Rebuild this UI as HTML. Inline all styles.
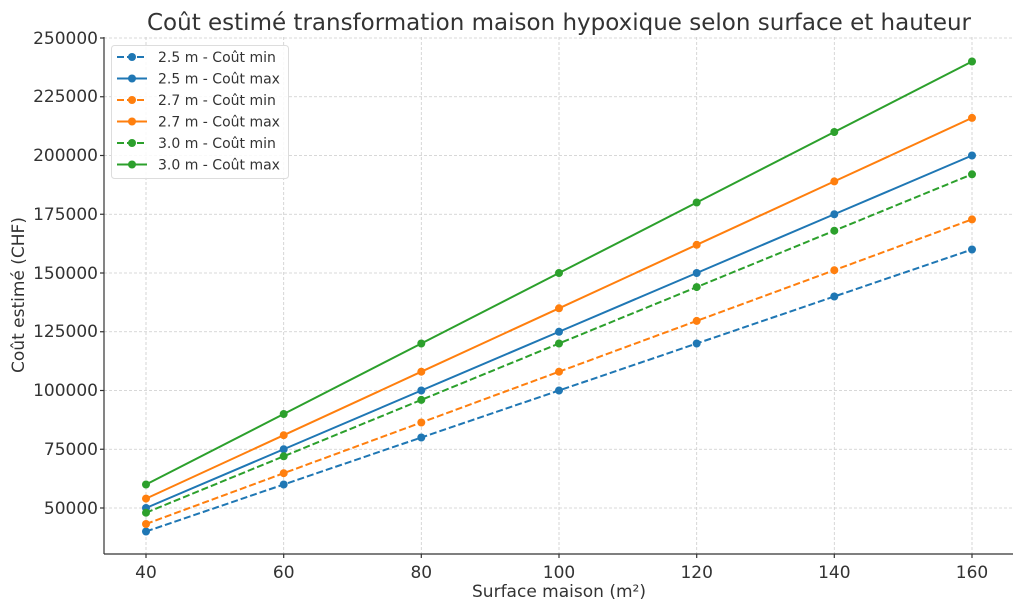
<!DOCTYPE html>
<html><head><meta charset="utf-8"><style>body{margin:0;background:#fff}svg{display:block}text{font-family:"DejaVu Sans","Liberation Sans",sans-serif;fill:#333}</style></head><body>
<svg width="1024" height="610" viewBox="0 0 1024 610">
<text x="559" y="30" font-size="23" text-anchor="middle">Coût estimé transformation maison hypoxique selon surface et hauteur</text>
<g stroke="#ccc" stroke-width="0.8" stroke-dasharray="3,2">
<line x1="146" y1="37" x2="146" y2="554"/><line x1="283.7" y1="37" x2="283.7" y2="554"/><line x1="421.3" y1="37" x2="421.3" y2="554"/><line x1="559" y1="37" x2="559" y2="554"/><line x1="696.7" y1="37" x2="696.7" y2="554"/><line x1="834.3" y1="37" x2="834.3" y2="554"/><line x1="972" y1="37" x2="972" y2="554"/>
<line x1="104" y1="508" x2="1013" y2="508"/><line x1="104" y1="449.25" x2="1013" y2="449.25"/><line x1="104" y1="390.5" x2="1013" y2="390.5"/><line x1="104" y1="331.75" x2="1013" y2="331.75"/><line x1="104" y1="273" x2="1013" y2="273"/><line x1="104" y1="214.25" x2="1013" y2="214.25"/><line x1="104" y1="155.5" x2="1013" y2="155.5"/><line x1="104" y1="96.75" x2="1013" y2="96.75"/><line x1="104" y1="38" x2="1013" y2="38"/>
</g>
<g stroke="#333" stroke-width="1.2"><line x1="104" y1="37" x2="104" y2="554"/><line x1="104" y1="554" x2="1013" y2="554"/>
<line x1="100" y1="508" x2="104" y2="508"/><line x1="100" y1="449.25" x2="104" y2="449.25"/><line x1="100" y1="390.5" x2="104" y2="390.5"/><line x1="100" y1="331.75" x2="104" y2="331.75"/><line x1="100" y1="273" x2="104" y2="273"/><line x1="100" y1="214.25" x2="104" y2="214.25"/><line x1="100" y1="155.5" x2="104" y2="155.5"/><line x1="100" y1="96.75" x2="104" y2="96.75"/><line x1="100" y1="38" x2="104" y2="38"/>
<line x1="146" y1="554" x2="146" y2="558"/><line x1="283.7" y1="554" x2="283.7" y2="558"/><line x1="421.3" y1="554" x2="421.3" y2="558"/><line x1="559" y1="554" x2="559" y2="558"/><line x1="696.7" y1="554" x2="696.7" y2="558"/><line x1="834.3" y1="554" x2="834.3" y2="558"/><line x1="972" y1="554" x2="972" y2="558"/></g>
<g font-size="17" text-anchor="end"><text x="98" y="514">50000</text><text x="98" y="455">75000</text><text x="98" y="396">100000</text><text x="98" y="337">125000</text><text x="98" y="279">150000</text><text x="98" y="220">175000</text><text x="98" y="161">200000</text><text x="98" y="102">225000</text><text x="98" y="44">250000</text></g>
<g font-size="17" text-anchor="middle"><text x="146" y="578">40</text><text x="283.7" y="578">60</text><text x="421.3" y="578">80</text><text x="559" y="578">100</text><text x="696.7" y="578">120</text><text x="834.3" y="578">140</text><text x="972" y="578">160</text>
<text x="559" y="597">Surface maison (m²)</text>
<text transform="translate(24,295) rotate(-90)">Coût estimé (CHF)</text></g>
<g fill="none" stroke-width="2">
<polyline stroke="#1f77b4" stroke-dasharray="7,3" points="146,531.5 283.7,484.5 421.3,437.5 559,390.5 696.7,343.5 834.3,296.5 972,249.5"/>
<polyline stroke="#1f77b4" points="146,508 283.7,449.25 421.3,390.5 559,331.75 696.7,273 834.3,214.25 972,155.5"/>
<polyline stroke="#ff7f0e" stroke-dasharray="7,3" points="146,524 283.7,473.2 421.3,422.5 559,371.7 696.7,320.9 834.3,270.2 972,219.4"/>
<polyline stroke="#ff7f0e" points="146,498.6 283.7,435.2 421.3,371.7 559,308.3 696.7,244.8 834.3,181.4 972,117.9"/>
<polyline stroke="#2ca02c" stroke-dasharray="7,3" points="146,512.7 283.7,456.3 421.3,399.9 559,343.5 696.7,287.1 834.3,230.7 972,174.3"/>
<polyline stroke="#2ca02c" points="146,484.5 283.7,414 421.3,343.5 559,273 696.7,202.5 834.3,132 972,61.5"/>
</g>
<g fill="#1f77b4"><circle cx="146" cy="531.5" r="4"/><circle cx="283.7" cy="484.5" r="4"/><circle cx="421.3" cy="437.5" r="4"/><circle cx="559" cy="390.5" r="4"/><circle cx="696.7" cy="343.5" r="4"/><circle cx="834.3" cy="296.5" r="4"/><circle cx="972" cy="249.5" r="4"/>
<circle cx="146" cy="508" r="4"/><circle cx="283.7" cy="449.25" r="4"/><circle cx="421.3" cy="390.5" r="4"/><circle cx="559" cy="331.75" r="4"/><circle cx="696.7" cy="273" r="4"/><circle cx="834.3" cy="214.25" r="4"/><circle cx="972" cy="155.5" r="4"/></g>
<g fill="#ff7f0e"><circle cx="146" cy="524" r="4"/><circle cx="283.7" cy="473.2" r="4"/><circle cx="421.3" cy="422.5" r="4"/><circle cx="559" cy="371.7" r="4"/><circle cx="696.7" cy="320.9" r="4"/><circle cx="834.3" cy="270.2" r="4"/><circle cx="972" cy="219.4" r="4"/>
<circle cx="146" cy="498.6" r="4"/><circle cx="283.7" cy="435.2" r="4"/><circle cx="421.3" cy="371.7" r="4"/><circle cx="559" cy="308.3" r="4"/><circle cx="696.7" cy="244.8" r="4"/><circle cx="834.3" cy="181.4" r="4"/><circle cx="972" cy="117.9" r="4"/></g>
<g fill="#2ca02c"><circle cx="146" cy="512.7" r="4"/><circle cx="283.7" cy="456.3" r="4"/><circle cx="421.3" cy="399.9" r="4"/><circle cx="559" cy="343.5" r="4"/><circle cx="696.7" cy="287.1" r="4"/><circle cx="834.3" cy="230.7" r="4"/><circle cx="972" cy="174.3" r="4"/>
<circle cx="146" cy="484.5" r="4"/><circle cx="283.7" cy="414" r="4"/><circle cx="421.3" cy="343.5" r="4"/><circle cx="559" cy="273" r="4"/><circle cx="696.7" cy="202.5" r="4"/><circle cx="834.3" cy="132" r="4"/><circle cx="972" cy="61.5" r="4"/></g>
<rect x="111.5" y="45.5" width="177" height="133" rx="3" fill="#fff" fill-opacity="0.85" stroke="#ddd"/>
<g stroke-width="2" fill="none">
<line x1="117" y1="57" x2="147" y2="57" stroke="#1f77b4" stroke-dasharray="7,3"/>
<line x1="117" y1="78.5" x2="147" y2="78.5" stroke="#1f77b4"/>
<line x1="117" y1="100" x2="147" y2="100" stroke="#ff7f0e" stroke-dasharray="7,3"/>
<line x1="117" y1="121.5" x2="147" y2="121.5" stroke="#ff7f0e"/>
<line x1="117" y1="143" x2="147" y2="143" stroke="#2ca02c" stroke-dasharray="7,3"/>
<line x1="117" y1="164.5" x2="147" y2="164.5" stroke="#2ca02c"/></g>
<circle cx="132" cy="57" r="4" fill="#1f77b4"/><circle cx="132" cy="78.5" r="4" fill="#1f77b4"/><circle cx="132" cy="100" r="4" fill="#ff7f0e"/><circle cx="132" cy="121.5" r="4" fill="#ff7f0e"/><circle cx="132" cy="143" r="4" fill="#2ca02c"/><circle cx="132" cy="164.5" r="4" fill="#2ca02c"/>
<g font-size="14"><text x="158" y="62">2.5 m - Coût min</text><text x="158" y="83.5">2.5 m - Coût max</text><text x="158" y="105">2.7 m - Coût min</text><text x="158" y="126.5">2.7 m - Coût max</text><text x="158" y="148">3.0 m - Coût min</text><text x="158" y="169.5">3.0 m - Coût max</text></g>
</svg>
</body></html>
